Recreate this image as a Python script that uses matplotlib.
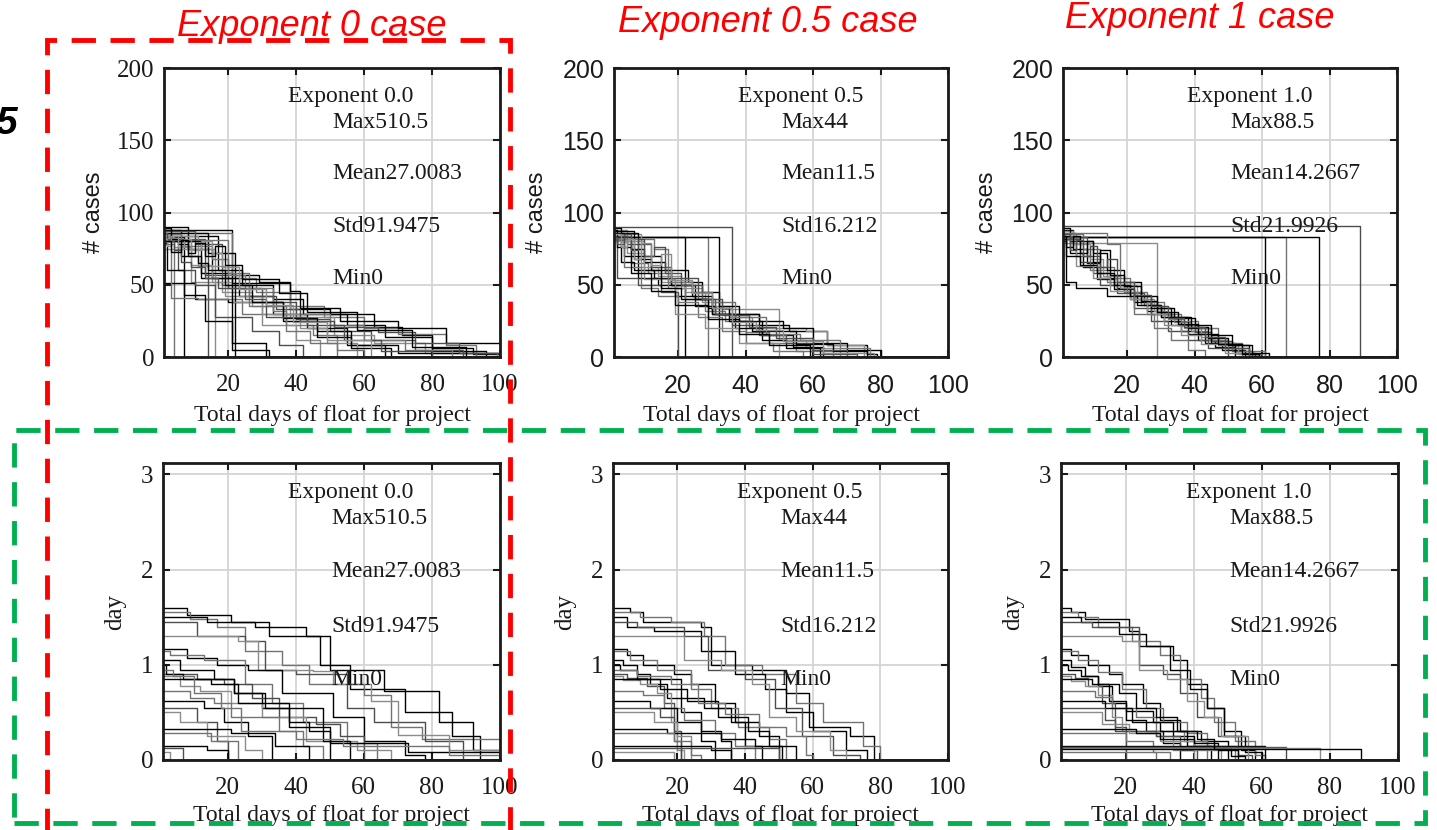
import matplotlib.pyplot as plt
from matplotlib.patches import Rectangle

# step curves, each one a list of (x, level from x on)
cases_exp0 = [
    [(1, 88), (21, 57), (29, 52), (38, 33), (50, 30), (63, 21), (71, 15), (80, 6), (92, 2)],
    [(1, 86), (21, 55), (28, 45), (38, 35), (48, 28), (60, 20), (70, 16), (84, 8), (93, 0)],
    [(1, 84), (17, 60), (24, 50), (33, 40), (42, 30), (55, 22), (66, 14), (80, 4), (96, 0)],
    [(1, 82), (13, 57), (20, 48), (30, 38), (40, 26), (50, 18), (62, 12), (75, 5), (89, 0)],
    [(1, 80), (9, 52), (18, 45), (27, 35), (38, 28), (51, 15), (63, 10), (78, 3), (99, 0)],
    [(1, 90), (8, 75), (15, 55), (23, 42), (33, 30), (43, 20), (55, 8), (70, 3)],
    [(1, 78), (4, 0)],
    [(1, 83), (7, 0)],
    [(1, 80), (14, 0)],
    [(1, 75), (16, 0)],
    [(1, 51), (10, 40), (20, 38), (36, 25), (46, 18), (56, 8), (66, 0)],
    [(1, 85), (3, 41), (11, 40), (24, 30), (50, 22), (60, 12), (72, 5), (86, 0)],
    [(1, 88), (6, 70), (12, 58), (21, 51), (38, 46), (41, 34), (53, 25), (70, 20), (84, 10), (100, 5)],
    [(1, 82), (5, 60), (10, 50), (16, 28), (27, 18), (35, 8), (42, 0)],
    [(1, 84), (11, 63), (19, 42), (30, 30), (41, 20), (49, 10), (58, 0)],
    [(1, 86), (14, 72), (22, 0)],
    [(1, 81), (20, 57), (25, 48), (33, 32), (37, 22), (45, 15), (52, 5), (60, 0)],
    [(1, 79), (2, 60), (7, 43), (13, 25), (21, 5), (32, 0)],
    [(1, 87), (10, 78), (18, 50), (26, 42), (34, 33), (41, 25), (51, 21), (64, 17), (75, 10), (88, 3)],
    [(1, 83), (4, 76), (9, 64), (15, 52), (21, 38), (30, 22), (40, 12), (47, 0)],
    [(1, 80), (12, 55), (21, 10), (31, 0)],
    [(1, 85), (6, 77), (15, 68), (20, 58), (26, 35), (37, 18), (44, 10), (52, 0)],
    [(1, 89), (3, 82), (5, 78), (8, 70), (11, 65), (14, 60), (19, 50), (27, 38), (36, 27), (46, 14), (56, 6), (68, 0)],
    [(1, 86), (2, 80), (4, 74), (6, 66), (9, 62), (13, 55), (17, 48), (25, 40), (31, 28), (43, 22), (54, 12), (65, 4), (80, 0)],
    [(1, 82), (2, 77), (3, 84), (5, 76), (7, 82), (9, 74), (12, 80), (15, 72), (18, 62), (23, 47), (31, 36), (39, 24), (49, 12), (62, 0)],
    [(1, 80), (3, 73), (6, 81), (8, 72), (10, 79), (13, 70), (16, 77), (19, 64), (24, 54), (35, 44), (43, 31), (58, 19), (74, 7), (90, 0)],
]

cases_exp05 = [
    [(1, 83), (22, 0)],
    [(1, 83), (29, 0)],
    [(1, 83), (32, 0)],
    [(1, 90), (36, 0)],
    [(1, 88), (5, 72), (10, 60), (15, 52), (22, 45), (28, 35), (35, 28), (42, 20), (50, 12), (58, 6), (68, 0)],
    [(1, 86), (4, 70), (8, 55), (14, 50), (19, 42), (25, 35), (31, 30), (44, 22), (53, 18), (64, 8), (76, 2), (79, 0)],
    [(1, 84), (6, 65), (11, 58), (17, 48), (22, 40), (28, 32), (34, 25), (40, 17), (47, 10), (55, 4), (66, 0)],
    [(1, 82), (3, 66), (7, 60), (13, 55), (18, 50), (25, 40), (30, 30), (37, 20), (45, 12), (52, 6), (62, 0)],
    [(1, 80), (2, 55), (8, 50), (15, 45), (20, 0)],
    [(1, 85), (9, 62), (14, 56), (21, 48), (27, 38), (33, 33), (50, 20), (58, 18), (64, 8), (75, 3), (78, 0)],
    [(1, 87), (7, 68), (12, 60), (18, 50), (24, 42), (30, 30), (44, 25), (51, 20), (60, 10), (70, 5), (80, 0)],
    [(1, 81), (4, 62), (9, 48), (14, 42), (20, 38), (26, 28), (33, 18), (40, 10), (48, 4), (57, 0)],
    [(1, 89), (3, 80), (6, 75), (10, 66), (16, 60), (23, 52), (27, 45), (32, 35), (38, 25), (45, 15), (54, 7), (63, 0)],
    [(1, 84), (5, 78), (12, 62), (18, 55), (26, 40), (31, 30), (36, 22), (44, 15), (52, 10), (60, 2), (73, 0)],
    [(1, 80), (10, 54), (19, 30), (28, 20), (38, 10), (50, 0)],
    [(1, 86), (8, 70), (15, 48), (21, 40), (29, 34), (35, 25), (42, 18), (55, 9), (66, 4), (76, 0)],
    [(1, 82), (13, 75), (17, 52), (24, 45), (30, 38), (37, 28), (46, 16), (56, 12), (68, 6), (77, 0)],
    [(1, 88), (2, 76), (6, 58), (12, 46), (19, 36), (29, 26), (38, 16), (47, 8), (59, 0)],
    [(1, 83), (2, 78), (4, 85), (6, 74), (8, 82), (10, 70), (13, 76), (16, 58), (21, 50), (27, 40), (33, 29), (41, 21), (49, 13), (60, 5), (70, 0)],
    [(1, 85), (3, 76), (5, 82), (7, 68), (9, 79), (12, 64), (15, 71), (18, 53), (24, 44), (30, 34), (36, 24), (43, 19), (51, 11), (63, 3), (75, 0)],
]

cases_exp1 = [
    [(1, 83), (61, 0)],
    [(1, 83), (67, 0)],
    [(1, 83), (77, 0)],
    [(1, 91), (89, 0)],
    [(1, 79), (29, 0)],
    [(1, 88), (4, 75), (8, 65), (12, 55), (17, 48), (21, 40), (26, 32), (31, 25), (36, 18), (41, 12), (46, 7), (52, 3), (58, 0)],
    [(1, 86), (5, 70), (9, 60), (14, 52), (19, 45), (24, 36), (29, 30), (34, 24), (39, 18), (44, 12), (50, 6), (56, 2), (60, 0)],
    [(1, 84), (3, 72), (7, 62), (11, 54), (16, 47), (22, 38), (27, 30), (33, 22), (38, 16), (43, 10), (48, 5), (55, 0)],
    [(1, 82), (6, 66), (10, 58), (15, 50), (20, 44), (25, 36), (30, 28), (35, 22), (40, 17), (45, 11), (51, 4), (57, 0)],
    [(1, 87), (4, 78), (9, 68), (13, 56), (18, 50), (23, 40), (28, 32), (32, 26), (37, 20), (42, 14), (47, 8), (53, 2), (59, 0)],
    [(1, 80), (2, 52), (5, 48), (14, 42), (23, 36), (30, 28), (38, 20), (45, 10), (52, 0)],
    [(1, 85), (7, 75), (12, 62), (16, 55), (21, 45), (26, 38), (31, 30), (36, 25), (41, 20), (47, 10), (54, 4), (61, 0)],
    [(1, 89), (3, 80), (10, 72), (14, 60), (19, 52), (24, 42), (29, 34), (34, 27), (40, 22), (45, 15), (51, 8), (57, 3), (62, 0)],
    [(1, 83), (8, 70), (12, 50), (17, 44), (22, 34), (27, 25), (32, 18), (38, 12), (44, 6), (50, 0)],
    [(1, 81), (5, 63), (10, 55), (15, 46), (21, 40), (26, 30), (31, 22), (36, 15), (42, 9), (49, 3), (54, 0)],
    [(1, 84), (2, 70), (6, 64), (11, 58), (16, 50), (21, 42), (27, 34), (33, 28), (39, 21), (44, 13), (50, 8), (56, 1), (60, 0)],
    [(1, 86), (14, 78), (18, 48), (22, 30), (28, 20), (33, 12), (38, 5), (43, 0)],
    [(1, 82), (2, 76), (4, 84), (6, 72), (8, 80), (10, 66), (12, 74), (15, 57), (19, 49), (24, 39), (29, 31), (35, 23), (41, 16), (47, 9), (54, 2), (59, 0)],
    [(1, 85), (3, 74), (5, 81), (7, 70), (9, 77), (11, 62), (14, 68), (17, 52), (22, 43), (27, 35), (32, 27), (37, 21), (43, 14), (49, 6), (56, 0)],
]

day_exp0 = [
    [(1, 1.60), (8, 1.52), (21, 1.45), (32, 1.30), (47, 1.00), (56, 0.75), (72, 0.50), (86, 0.25), (94, 0)],
    [(1, 1.55), (9, 1.48), (17, 1.40), (25, 1.15), (36, 1.00), (44, 0.80), (60, 0.68), (68, 0.35), (77, 0.22)],
    [(1, 1.50), (14, 1.45), (28, 1.40), (43, 1.30), (50, 0.95), (66, 0.73), (82, 0.40), (92, 0.10)],
    [(1, 1.45), (11, 1.30), (25, 1.25), (31, 0.95), (40, 0.90), (55, 0.55), (63, 0.40), (78, 0.20), (89, 0)],
    [(1, 1.30), (23, 1.25), (29, 0.95), (45, 0.93), (51, 0.80), (62, 0.62), (70, 0.26), (85, 0.10)],
    [(1, 1.17), (8, 1.07), (17, 1.00), (26, 0.95), (36, 0.70), (51, 0.45), (60, 0.20), (72, 0.05), (78, 0)],
    [(1, 1.15), (3, 1.10), (13, 1.05), (25, 0.80), (33, 0.60), (42, 0.40), (55, 0.18), (64, 0)],
    [(1, 1.05), (6, 0.95), (16, 0.85), (22, 0.70), (30, 0.55), (38, 0.40), (44, 0.30), (50, 0)],
    [(1, 0.90), (11, 0.85), (19, 0.80), (27, 0.65), (35, 0.45), (46, 0.38), (53, 0.25), (60, 0)],
    [(1, 0.88), (6, 0.78), (12, 0.72), (21, 0.60), (30, 0.45), (43, 0.20), (58, 0.10), (68, 0)],
    [(1, 0.85), (22, 0.70), (31, 0.55), (48, 0.20), (56, 0)],
    [(1, 0.72), (9, 0.65), (16, 0.60), (21, 0.45), (35, 0.30), (42, 0.15), (48, 0)],
    [(1, 0.62), (13, 0.55), (19, 0.40), (26, 0.25), (33, 0)],
    [(1, 0.55), (11, 0.40), (17, 0.20), (20, 0)],
    [(1, 0.50), (6, 0.40), (14, 0.25), (25, 0.10), (30, 0)],
    [(1, 0.33), (21, 0.28), (34, 0.15), (44, 0)],
    [(1, 0.28), (15, 0.20), (23, 0)],
    [(1, 0.15), (14, 0.10), (20, 0)],
    [(1, 0.13), (7, 0)],
    [(1, 0.08), (3, 0)],
    [(1, 1.00), (2, 0.90), (7, 0.85), (15, 0.80), (23, 0.60), (38, 0.35), (50, 0.18), (73, 0.08)],
    [(1, 0.95), (4, 0.88), (10, 0.70), (18, 0.55), (24, 0.30), (40, 0.22), (54, 0.15), (85, 0.05)],
]

day_exp05 = [
    [(1, 1.60), (6, 1.55), (10, 1.45), (27, 1.40), (30, 1.00), (42, 0.95), (52, 0.70), (59, 0.35), (71, 0.25), (78, 0)],
    [(1, 1.55), (9, 1.50), (18, 1.45), (28, 1.30), (34, 1.00), (45, 0.90), (55, 0.60), (63, 0.40), (75, 0.15), (80, 0)],
    [(1, 1.50), (5, 1.40), (13, 1.35), (27, 1.15), (37, 0.90), (46, 0.75), (52, 0.50), (60, 0.30), (70, 0.10), (76, 0)],
    [(1, 1.45), (8, 1.40), (22, 1.30), (29, 0.95), (40, 0.85), (49, 0.55), (57, 0.25), (66, 0.05), (74, 0)],
    [(1, 1.30), (22, 1.05), (33, 0.95), (42, 0.80), (47, 0.45), (55, 0.30), (65, 0.10), (70, 0)],
    [(1, 1.17), (5, 1.10), (10, 1.00), (19, 0.90), (24, 0.80), (31, 0.60), (37, 0.40), (44, 0.25), (50, 0)],
    [(1, 1.15), (6, 1.05), (14, 0.95), (24, 0.75), (30, 0.55), (38, 0.35), (47, 0.22), (52, 0)],
    [(1, 1.05), (4, 1.00), (8, 0.90), (12, 0.80), (17, 0.65), (21, 0.50), (27, 0.30), (33, 0.20), (36, 0)],
    [(1, 0.90), (5, 0.86), (11, 0.78), (16, 0.60), (19, 0.30), (21, 0)],
    [(1, 0.88), (4, 0.84), (9, 0.80), (14, 0.70), (18, 0.40), (20, 0.10), (22, 0)],
    [(1, 0.85), (21, 0.65), (28, 0.55), (36, 0.40), (40, 0.15), (45, 0)],
    [(1, 0.72), (10, 0.68), (16, 0.55), (22, 0.42), (31, 0.28), (37, 0.15), (43, 0)],
    [(1, 0.62), (12, 0.55), (20, 0.40), (27, 0.20), (31, 0)],
    [(1, 0.55), (15, 0.45), (19, 0.20), (21, 0)],
    [(1, 0.50), (13, 0.40), (20, 0.25), (24, 0)],
    [(1, 0.33), (17, 0.28), (33, 0.22), (43, 0.15), (51, 0)],
    [(1, 0.28), (19, 0.20), (24, 0.05), (27, 0)],
    [(1, 0.15), (30, 0.10), (36, 0)],
    [(1, 0.13), (50, 0)],
    [(1, 0.08), (19, 0)],
    [(1, 1.00), (3, 0.95), (8, 0.85), (15, 0.75), (23, 0.62), (32, 0.45), (41, 0.30), (47, 0.15), (55, 0)],
    [(1, 0.95), (8, 0.88), (18, 0.80), (26, 0.60), (34, 0.48), (44, 0.35), (52, 0.25), (58, 0.05), (60, 0)],
]

day_exp1 = [
    [(1, 1.60), (4, 1.55), (8, 1.48), (21, 1.35), (24, 1.20), (34, 1.05), (38, 0.80), (44, 0.55), (49, 0.30), (54, 0.10), (58, 0)],
    [(1, 1.55), (6, 1.50), (12, 1.40), (22, 1.25), (30, 1.10), (36, 0.85), (42, 0.65), (46, 0.40), (52, 0.20), (58, 0.05), (61, 0)],
    [(1, 1.50), (7, 1.45), (18, 1.32), (26, 1.20), (33, 0.95), (39, 0.75), (44, 0.55), (49, 0.25), (55, 0.08), (60, 0)],
    [(1, 1.45), (10, 1.40), (24, 1.00), (31, 0.90), (36, 0.70), (41, 0.45), (47, 0.25), (53, 0.05), (57, 0)],
    [(1, 1.30), (19, 1.25), (24, 0.95), (32, 0.85), (38, 0.62), (43, 0.45), (48, 0.25), (56, 0)],
    [(1, 1.17), (4, 1.10), (9, 1.00), (15, 0.90), (19, 0.80), (25, 0.60), (30, 0.42), (36, 0.30), (42, 0.20), (50, 0)],
    [(1, 1.15), (6, 1.05), (12, 0.92), (19, 0.75), (26, 0.55), (31, 0.40), (38, 0.28), (44, 0.15), (52, 0)],
    [(1, 1.05), (4, 0.98), (8, 0.88), (12, 0.78), (16, 0.60), (20, 0.42), (26, 0.30), (31, 0.18), (36, 0)],
    [(1, 0.90), (5, 0.86), (9, 0.78), (13, 0.60), (17, 0.35), (20, 0)],
    [(1, 0.88), (4, 0.83), (8, 0.78), (12, 0.68), (16, 0.45), (19, 0.30), (29, 0.25), (34, 0.10), (40, 0)],
    [(1, 0.85), (10, 0.80), (15, 0.62), (20, 0.52), (28, 0.40), (34, 0.25), (40, 0.15), (47, 0)],
    [(1, 0.72), (11, 0.66), (16, 0.55), (23, 0.45), (29, 0.30), (37, 0.20), (44, 0)],
    [(1, 0.62), (14, 0.55), (22, 0.40), (30, 0.30), (38, 0.15), (45, 0)],
    [(1, 0.55), (14, 0.42), (17, 0.30), (29, 0.25), (36, 0.10), (41, 0)],
    [(1, 0.50), (13, 0.38), (21, 0.28), (30, 0.20), (40, 0.10), (48, 0)],
    [(1, 0.33), (23, 0.28), (30, 0.22), (40, 0.18), (47, 0.10), (53, 0)],
    [(1, 0.28), (20, 0.20), (28, 0.08), (33, 0)],
    [(1, 0.15), (61, 0)],
    [(1, 0.14), (67, 0)],
    [(1, 0.13), (77, 0)],
    [(1, 0.12), (89, 0)],
    [(1, 0.08), (29, 0)],
    [(1, 1.00), (3, 0.95), (7, 0.88), (12, 0.80), (18, 0.70), (23, 0.55), (29, 0.45), (35, 0.30), (41, 0.22), (46, 0.12), (51, 0.04), (55, 0)],
]

titles = ['Exponent 0 case', 'Exponent 0.5 case', 'Exponent 1 case']
exponents = ['0.0', '0.5', '1.0']
max_vals = ['510.5', '44', '88.5']
mean_vals = ['27.0083', '11.5', '14.2667']
std_vals = ['91.9475', '16.212', '21.9926']
min_vals = ['0', '0', '0']
x_ticks = [20, 40, 60, 80, 100]
case_ticks = [0, 50, 100, 150, 200]
day_ticks = [0, 1, 2, 3]

SERIF = 'Liberation Serif'
SANS = 'Liberation Sans'
W, H = 1437, 830

fig = plt.figure(figsize=(W / 100, H / 100), dpi=100)


def px_box(left, top, right, bottom):
    return [left / W, 1 - bottom / H, (right - left) / W, (bottom - top) / H]


top_boxes = [(164, 68, 500, 357), (614, 68, 948, 357), (1063, 68, 1397, 357)]
bot_boxes = [(163, 463, 500, 760), (613, 463, 948, 760), (1061, 463, 1398, 760)]
case_sets = [cases_exp0, cases_exp05, cases_exp1]
day_sets = [day_exp0, day_exp05, day_exp1]
case_lab_x = [-0.175, -0.198, -0.195]
line_cols = ['black', '0.45', 'black', '0.3', '0.55']


def draw_panel(box, curves, ylim, yticks, ylabel, tick_font, k, ylab_font, ylab_size, ylab_x, xlab_y):
    ax = fig.add_axes(px_box(*box))
    for i, c in enumerate(curves):
        xs = [p[0] for p in c] + [100]
        ys = [p[1] for p in c] + [c[-1][1]]
        ax.step(xs, ys, where='post', color=line_cols[i % len(line_cols)], lw=1.0)
    ax.set_xlim(1, 100)
    ax.set_ylim(*ylim)
    ax.set_xticks(x_ticks)
    ax.set_yticks(yticks)
    ax.grid(True, color='#d4d4d4', lw=1.3)
    ax.set_axisbelow(True)
    for s in ax.spines.values():
        s.set_linewidth(2.0)
        s.set_color('#1a1a1a')
    ax.tick_params(direction='in', length=5, width=1.5, top=True, right=True,
                   labelsize=18, colors='#1a1a1a')
    ax.tick_params(axis='x', pad=12)
    ax.tick_params(axis='y', pad=7)
    for lab in ax.get_xticklabels() + ax.get_yticklabels():
        lab.set_fontfamily(tick_font)
    ax.set_ylabel(ylabel, fontsize=ylab_size, family=ylab_font, color='#1a1a1a')
    ax.yaxis.set_label_coords(ylab_x, 0.5)
    ax.set_xlabel('Total days of float for project', fontsize=17, family=SERIF, color='#1a1a1a')
    ax.xaxis.set_label_coords(0.5, xlab_y)
    txt = dict(fontsize=17, family=SERIF, color='#1a1a1a', va='center', ha='left',
               transform=ax.transAxes)
    ax.text(0.37, 0.90, 'Exponent ' + exponents[k], **txt)
    ax.text(0.50, 0.813, 'Max' + max_vals[k], **txt)
    ax.text(0.50, 0.635, 'Mean' + mean_vals[k], **txt)
    ax.text(0.50, 0.45, 'Std' + std_vals[k], **txt)
    ax.text(0.50, 0.272, 'Min' + min_vals[k], **txt)
    return ax


for k in range(3):
    draw_panel(top_boxes[k], case_sets[k], (0, 200), case_ticks, '# cases',
               SERIF if k == 0 else SANS, k, SANS, 17, case_lab_x[k], -0.165)
    draw_panel(bot_boxes[k], day_sets[k], (0, 3.12), day_ticks, 'day',
               SERIF, k, SERIF, 18, -0.11, -0.15)

# red titles
title_pos = [(312, 27), (768, 22), (1200, 18)]
for t, (tx, ty) in zip(titles, title_pos):
    fig.text(tx / W, 1 - ty / H, t, color='#ff0000', fontsize=26, style='italic',
             family=SANS, ha='center', va='center')

fig.text(17 / W, 1 - 124 / H, '5', fontsize=28, weight='bold', style='italic',
         family=SANS, ha='right', va='center')

# dashed boxes
green = Rectangle((14 / W, 1 - 823 / H), (1425 - 14) / W, (823 - 430) / H,
                  transform=fig.transFigure, fill=False, edgecolor='#00b050',
                  lw=3.5, ls=(0, (5, 3)), clip_on=False)
red = Rectangle((47 / W, -20 / H), (510 - 47) / W, (850 - 40) / H,
                transform=fig.transFigure, fill=False, edgecolor='#ff0000',
                lw=3.5, ls=(0, (5, 3)), clip_on=False)
fig.patches.extend([green, red])

fig.savefig('out.png', dpi=100)
